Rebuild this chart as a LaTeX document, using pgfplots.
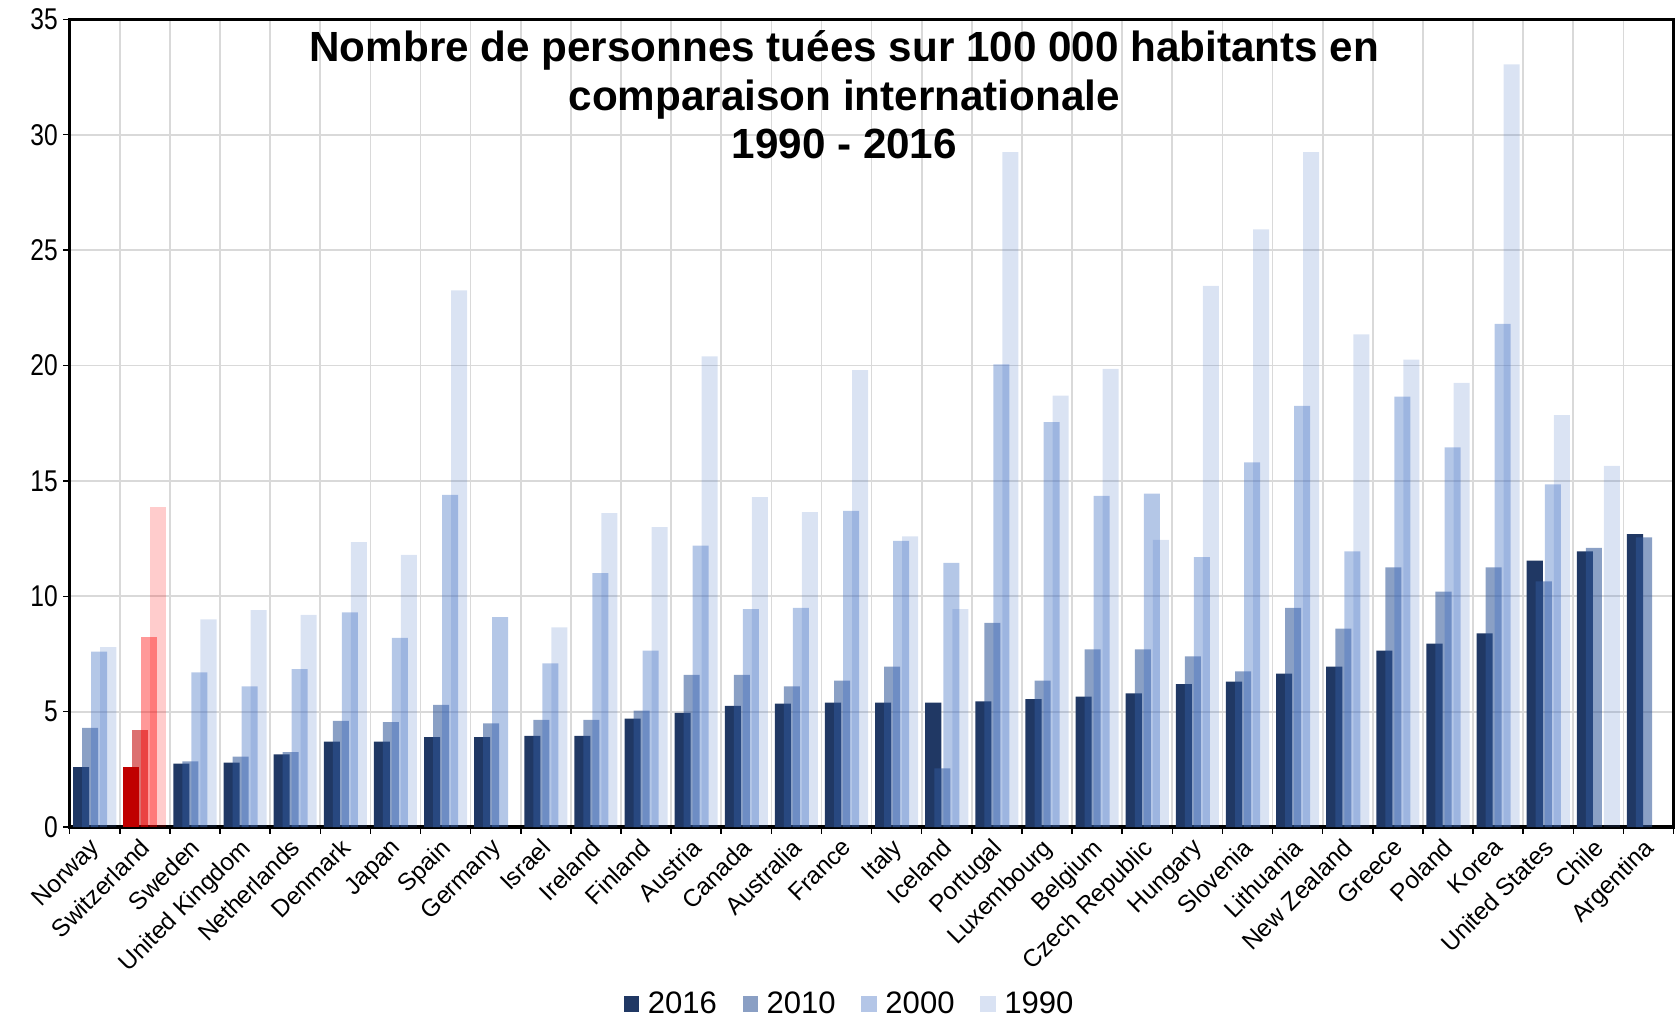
\documentclass[border=0pt]{standalone}
\usepackage{fontspec}
\setmainfont{Liberation Sans}
\newfontfamily\narrowfont[FakeStretch=0.82]{Liberation Sans}
\usepackage{pgfplots}
\usepackage{pgfplotstable}
\pgfplotsset{compat=1.18}

\definecolor{c2016}{HTML}{203864}
\definecolor{c2010}{HTML}{2F5597}
\definecolor{c2000}{HTML}{4472C4}
\definecolor{chdark}{HTML}{C00000}
\definecolor{chred}{HTML}{FF0000}

% x  y2016  y2010  y2000  y1990 (Switzerland plotted apart, in red)
\pgfplotstableread{
x  a      b      c      d
0  2.60   4.30   7.60   7.80
1  nan    nan    nan    nan
2  2.75   2.85   6.70   9.00
3  2.80   3.05   6.10   9.40
4  3.15   3.25   6.85   9.20
5  3.70   4.60   9.30   12.35
6  3.70   4.55   8.20   11.80
7  3.90   5.30   14.40  23.25
8  3.90   4.50   9.10   nan
9  3.95   4.65   7.10   8.65
10 3.95   4.65   11.00  13.60
11 4.70   5.05   7.65   13.00
12 4.95   6.60   12.20  20.40
13 5.25   6.60   9.45   14.30
14 5.35   6.10   9.50   13.65
15 5.40   6.35   13.70  19.80
16 5.40   6.95   12.40  12.60
17 5.40   2.55   11.45  9.45
18 5.45   8.85   20.05  29.25
19 5.55   6.35   17.55  18.70
20 5.65   7.70   14.35  19.85
21 5.80   7.70   14.45  12.45
22 6.20   7.40   11.70  23.45
23 6.30   6.75   15.80  25.90
24 6.65   9.50   18.25  29.25
25 6.95   8.60   11.95  21.35
26 7.65   11.25  18.65  20.25
27 7.95   10.20  16.45  19.25
28 8.40   11.25  21.80  33.05
29 11.55  10.65  14.85  17.85
30 11.95  12.10  nan    15.65
31 12.70  12.55  nan    nan
}\data

\pgfplotstableread{
x  a     b     c     d
1  2.60  4.20  8.25  13.85
}\swiss

\begin{document}
\begin{tikzpicture}
% page frame: room for tick labels on the left, x labels and legend below
\path[use as bounding box] (-32.5pt,-90pt) rectangle (751.5pt,386pt);
\begin{axis}[
  scale only axis,
  width=748.5pt, height=377pt,
  xmin=-0.5, xmax=31.5,
  ymin=0, ymax=35,
  ytick={0,5,...,35},
  xtick={0,...,31},
  xticklabels={Norway,Switzerland,Sweden,United Kingdom,Netherlands,Denmark,Japan,Spain,Germany,Israel,Ireland,Finland,Austria,Canada,Australia,France,Italy,Iceland,Portugal,Luxembourg,Belgium,Czech Republic,Hungary,Slovenia,Lithuania,New Zealand,Greece,Poland,Korea,United States,Chile,Argentina},
  minor xtick={-0.5,0.5,...,31.5},
  xtick pos=bottom, ytick pos=left,
  xminorgrids, ymajorgrids,
  grid style={draw=black!15, line width=0.8pt},
  minor grid style={draw=black!15, line width=0.8pt},
  major x tick style={draw=none},
  tick align=outside,
  tick style={black, line width=0.7pt},
  major tick length=3pt, minor tick length=3pt,
  axis line style={line width=1.6pt},
  /pgf/number format/assume math mode=true,
  yticklabel style={font=\narrowfont\fontsize{14}{16}\selectfont, xshift=1pt},
  xticklabel style={rotate=45, anchor=north east, inner sep=1pt,
    xshift=-2pt, yshift=2pt, font=\fontsize{11.4}{13}\selectfont},
  ybar, bar width=0.32,
  legend columns=4,
  legend style={draw=none, at={(0.487,-0.219)}, anchor=center,
    font=\fontsize{14.5}{16}\selectfont,
    /tikz/every odd column/.append style={column sep=2pt},
    /tikz/every even column/.append style={column sep=10pt}},
  legend image code/.code={\fill[#1] (0pt,-3.6pt) rectangle (7.2pt,3.6pt);},
]
\addplot[fill=c2016, draw=none, bar shift=-0.27] table[x=x, y=a] {\data};
\addplot[fill=c2010, fill opacity=0.56, draw=none, bar shift=-0.09] table[x=x, y=b] {\data};
\addplot[fill=c2000, fill opacity=0.40, draw=none, bar shift=0.09] table[x=x, y=c] {\data};
\addplot[fill=c2000, fill opacity=0.20, draw=none, bar shift=0.27] table[x=x, y=d] {\data};
\legend{2016,2010,2000,1990}

\addplot[forget plot, fill=chdark, draw=none, bar shift=-0.27] table[x=x, y=a] {\swiss};
\addplot[forget plot, fill=chdark, fill opacity=0.56, draw=none, bar shift=-0.09] table[x=x, y=b] {\swiss};
\addplot[forget plot, fill=chred, fill opacity=0.40, draw=none, bar shift=0.09] table[x=x, y=c] {\swiss};
\addplot[forget plot, fill=chred, fill opacity=0.20, draw=none, bar shift=0.27] table[x=x, y=d] {\swiss};

\node[anchor=north, align=center, font=\bfseries\fontsize{19.7}{22.5}\selectfont]
  at (rel axis cs:0.483,0.995)
  {Nombre de personnes tuées sur 100 000 habitants en\\comparaison internationale\\1990 - 2016};
\end{axis}
\end{tikzpicture}
\end{document}
